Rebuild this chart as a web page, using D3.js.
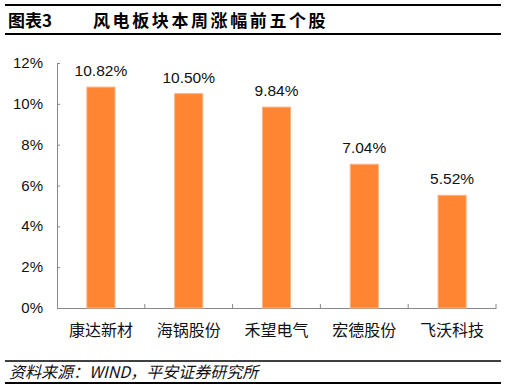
<!DOCTYPE html>
<html>
<head>
<meta charset="utf-8">
<script src="https://cdn.jsdelivr.net/npm/d3@7"></script>
<style>
  body { margin: 0; background: #fff; }
  text { font-family: "Liberation Sans", Arial, "Noto Sans CJK SC", sans-serif; }
  .cjk { font-family: "Noto Sans CJK SC", sans-serif; }
</style>
</head>
<body>
<div id="chart"></div>
<script>
const categories = ["康达新材", "海锅股份", "禾望电气", "宏德股份", "飞沃科技"];
const values = [10.82, 10.50, 9.84, 7.04, 5.52];
const yTicks = [0, 2, 4, 6, 8, 10, 12];

const width = 506, height = 390;
const svg = d3.select('#chart').append('svg')
  .attr('width', width).attr('height', height);

// header rules + title
svg.append('line').attr('x1', 5).attr('x2', 501).attr('y1', 5).attr('y2', 5)
  .attr('stroke', '#000').attr('stroke-width', 2);
svg.append('line').attr('x1', 5).attr('x2', 501).attr('y1', 34).attr('y2', 34)
  .attr('stroke', '#000').attr('stroke-width', 2);
svg.append('text').attr('class', 'cjk').attr('x', 8).attr('y', 27)
  .attr('font-size', 17).attr('font-weight', 'bold').text('图表3');
svg.append('text').attr('class', 'cjk').attr('x', 93).attr('y', 27)
  .attr('font-size', 17).attr('font-weight', 'bold').attr('letter-spacing', 2.6)
  .text('风电板块本周涨幅前五个股');

// chart area
const x = d3.scaleBand().domain(categories).range([57, 496]).paddingInner(0).paddingOuter(0);
const y = d3.scaleLinear().domain([0, 12]).range([308, 63]);

const axisColor = '#888';
const yAxis = svg.append('g').attr('transform', 'translate(57,0)')
  .call(d3.axisRight(y).tickValues(yTicks).tickSize(3).tickFormat(''));
yAxis.select('.domain').attr('stroke', axisColor);
yAxis.selectAll('.tick line').attr('stroke', axisColor);

svg.selectAll('.ylab').data(yTicks).enter().append('text')
  .attr('x', 43).attr('y', d => y(d) + 5)
  .attr('text-anchor', 'end').attr('font-size', 15).attr('fill', '#111')
  .text(d => d + '%');

const xAxis = svg.append('g').attr('transform', 'translate(0,308)')
  .call(d3.axisTop(x).tickSize(0).tickFormat(''));
xAxis.select('.domain').attr('stroke', axisColor);
xAxis.selectAll('.tick').remove();
// category boundary ticks
const bounds = categories.map(c => x(c) + x.bandwidth());
svg.selectAll('.xt').data(bounds).enter().append('line')
  .attr('x1', d => d).attr('x2', d => d).attr('y1', 308).attr('y2', 304)
  .attr('stroke', axisColor);

const barW = x.bandwidth() * 0.32;
svg.selectAll('.bar').data(values).enter().append('rect')
  .attr('x', (d, i) => x(categories[i]) + x.bandwidth() / 2 - barW / 2)
  .attr('y', d => y(d))
  .attr('width', barW)
  .attr('height', d => y(0) - y(d))
  .attr('fill', '#FF8533')
  .attr('stroke', '#FFB383').attr('stroke-width', 1);

svg.selectAll('.vlab').data(values).enter().append('text')
  .attr('x', (d, i) => x(categories[i]) + x.bandwidth() / 2)
  .attr('y', d => y(d) - 11)
  .attr('text-anchor', 'middle').attr('font-size', 15.5).attr('fill', '#111')
  .text(d => d.toFixed(2) + '%');

svg.selectAll('.clab').data(categories).enter().append('text')
  .attr('class', 'cjk')
  .attr('x', d => x(d) + x.bandwidth() / 2)
  .attr('y', 336)
  .attr('text-anchor', 'middle').attr('font-size', 16).attr('fill', '#111')
  .text(d => d);

// footer
svg.append('line').attr('x1', 5).attr('x2', 501).attr('y1', 361).attr('y2', 361)
  .attr('stroke', '#000').attr('stroke-width', 1.5);
svg.append('line').attr('x1', 5).attr('x2', 501).attr('y1', 383).attr('y2', 383)
  .attr('stroke', '#000').attr('stroke-width', 2);
svg.append('text').attr('class', 'cjk').attr('x', 9).attr('y', 378)
  .attr('font-size', 16).attr('font-style', 'italic').attr('fill', '#111')
  .text('资料来源：WIND，平安证券研究所');
</script>
</body>
</html>
